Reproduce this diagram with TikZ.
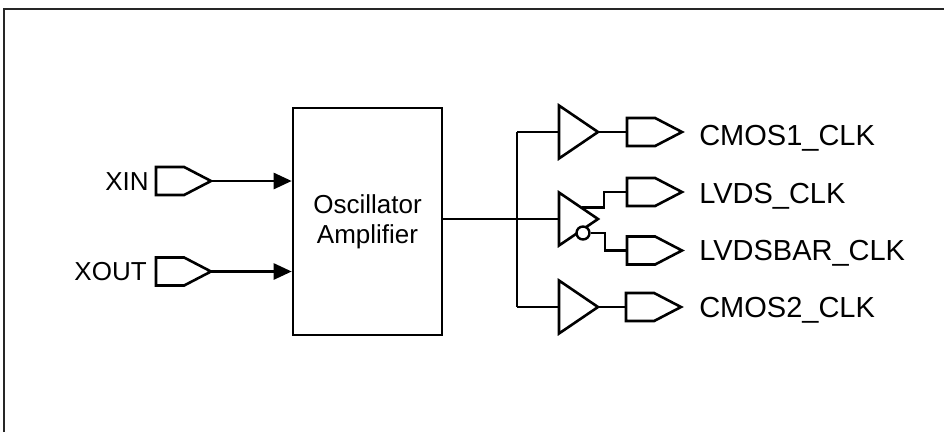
\documentclass[tikz,border=0pt]{standalone}
\usepackage{fontspec}
\setmainfont{Liberation Sans}
\usetikzlibrary{arrows.meta,shapes.symbols}
\begin{document}
\begin{tikzpicture}[x=1pt,y=-1pt,line width=2.6pt,line join=miter,
  port/.style={signal,signal to=east,draw,minimum width=55pt,minimum height=28pt,
    signal pointer angle=55,inner sep=0pt,outer sep=0pt},
  inlbl/.style={font=\fontsize{26}{30}\selectfont,inner sep=0pt,anchor=base east},
  outlbl/.style={font=\fontsize{29}{34}\selectfont,inner sep=0pt,anchor=base west},
  blk/.style={draw,minimum width=149pt,minimum height=227pt,align=center,
    font=\fontsize{26}{30}\selectfont,inner sep=0pt},
  arr/.style={-{Triangle[length=18pt,width=16pt]}},
  buf/.pic={\draw (0,-26.5) -- (39,0) -- (0,26.5) -- cycle;
    \coordinate (-in) at (0,0); \coordinate (-out) at (39,0);}]
\useasboundingbox (0,0) rectangle (944,432);
% frame
\draw[line width=2pt,black!85] (4,432) -- (4,9) -- (944,9);
% block
\node[blk] (osc) at (367.5,221.5) {Oscillator\\Amplifier};
% inputs
\node[port,anchor=west] (xin) at (156,181) {};
\node[port,anchor=west] (xout) at (156,271.5) {};
\node[inlbl] (lxin) at (150,190) {XIN};
\node[inlbl] (lxout) at (148,280) {XOUT};
\draw[arr] (xin.east) -- (xin.east -| osc.west);
\draw[arr] (xout.east) -- (xout.east -| osc.west);
% buffers
\pic (b1) at (559,132) {buf};
\pic (lv) at (559,219) {buf};
\pic (b2) at (559,307) {buf};
\coordinate (busT) at (517,132);
\coordinate (busB) at (517,307);
\draw (busT) -- (busB);
\draw (busT) -- (b1-in);
\draw (busB) -- (b2-in);
\draw (osc.east |- lv-in) -- (lv-in);
% bubble
\node[draw,circle,fill=white,minimum size=13pt,inner sep=0pt,line width=2.4pt] (bub) at (583,233) {};
\coordinate (lvp) at (582,207.5);
% output ports
\node[port,anchor=west] (p1) at (627,132) {};
\node[port,anchor=west] (p2) at (627,192) {};
\node[port,anchor=west] (p3) at (627,250.5) {};
\node[port,anchor=west] (p4) at (626,307) {};
\draw (b1-out) -- (p1.west);
\draw (b2-out) -- (p4.west);
\draw (lvp) -- (604,207.5) |- (p2.west);
\draw (bub.east) -- (605,233) |- (p3.west);
% labels
\node[outlbl] (l1) at (698,145) {CMOS1\_CLK};
\node[outlbl] (l2) at (698,203) {LVDS\_CLK};
\node[outlbl] (l3) at (698,260) {LVDSBAR\_CLK};
\node[outlbl] (l4) at (698,317) {CMOS2\_CLK};
\end{tikzpicture}
\end{document}
